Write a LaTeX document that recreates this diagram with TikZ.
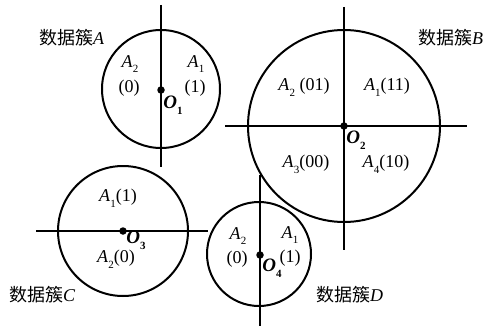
\documentclass[tikz,border=0pt]{standalone}
\usepackage{fontspec}
\setmainfont{Liberation Serif}
\newfontfamily\cjk{Noto Sans CJK SC}
\newcommand\lowidx[1]{\raisebox{-0.32em}{\fontsize{11}{11}\selectfont #1}}
\newcommand\Aa[1]{\textit{A}\lowidx{#1}}
\newcommand\Oo[1]{{\bfseries\itshape O}\lowidx{\bfseries #1}}
\tikzset{
  ring/.style={circle, draw, line width=2pt, inner sep=0pt, minimum size=#1},
  axis/.style={line width=2pt},
  dotc/.style={circle, fill, inner sep=0pt, minimum size=7.5pt},
  lbl/.style={inner sep=0pt, font=\fontsize{18}{20}\selectfont},
  olbl/.style={inner sep=0pt, font=\fontsize{19}{20}\selectfont},
  cname/.style={inner sep=0pt, font=\fontsize{18}{20}\selectfont},
}
\begin{document}
\begin{tikzpicture}[x=1pt,y=-1pt]
\useasboundingbox (0,0) rectangle (484,326);
% cluster A
\node[ring=118pt] (cA) at (161,89) {};
\coordinate (a1) at (161,5); \coordinate (a2) at (161,167);
\draw[axis] (a1) -- (a2);
\node[dotc] (o1) at (161,90) {};
\node[olbl] (o1l) at (173,105) {\Oo{1}};
\node[lbl] (a2l) at (130,64) {\Aa{2}};
\node[lbl] (a2v) at (129,88) {(0)};
\node[lbl] (a1l) at (196,64) {\Aa{1}};
\node[lbl] (a1v) at (195,88) {(1)};
\node[cname, anchor=west] (nA) at (39,38) {{\cjk 数据簇}\textit{A}};
% cluster B
\node[ring=192pt] (cB) at (344,126) {};
\coordinate (b1) at (225,126); \coordinate (b2) at (467,126);
\coordinate (b3) at (344,7); \coordinate (b4) at (344,250);
\draw[axis] (b1) -- (b2);
\draw[axis] (b3) -- (b4);
\node[dotc] (o2) at (344,126) {};
\node[olbl] (o2l) at (356,140) {\Oo{2}};
\node[lbl] (b2l) at (304,87) {\Aa{2} (01)};
\node[lbl] (b1l) at (387,87) {\Aa{1}(11)};
\node[lbl] (b3l) at (306,164) {\Aa{3}(00)};
\node[lbl] (b4l) at (386,164) {\Aa{4}(10)};
\node[cname, anchor=west] (nB) at (418,38) {{\cjk 数据簇}\textit{B}};
% cluster C
\node[ring=130pt] (cC) at (123,231) {};
\coordinate (c1) at (36,231); \coordinate (c2) at (208,231);
\draw[axis] (c1) -- (c2);
\node[dotc] (o3) at (123,231) {};
\node[olbl] (o3l) at (136,240) {\Oo{3}};
\node[lbl] (c1l) at (118,198) {\Aa{1}(1)};
\node[lbl] (c2l) at (116,259) {\Aa{2}(0)};
\node[cname, anchor=west] (nC) at (9,295) {{\cjk 数据簇}\textit{C}};
% cluster D
\node[ring=104pt] (cD) at (259,254) {};
\coordinate (d1) at (260,175); \coordinate (d2) at (260,326);
\draw[axis] (d1) -- (d2);
\node[dotc] (o4) at (260,255) {};
\node[olbl] (o4l) at (272,268) {\Oo{4}};
\node[lbl] (d2l) at (238,236) {\Aa{2}};
\node[lbl] (d2v) at (237,259) {(0)};
\node[lbl] (d1l) at (290,235) {\Aa{1}};
\node[lbl] (d1v) at (290,258) {(1)};
\node[cname, anchor=west] (nD) at (316,295) {{\cjk 数据簇}\textit{D}};
\end{tikzpicture}
\end{document}
